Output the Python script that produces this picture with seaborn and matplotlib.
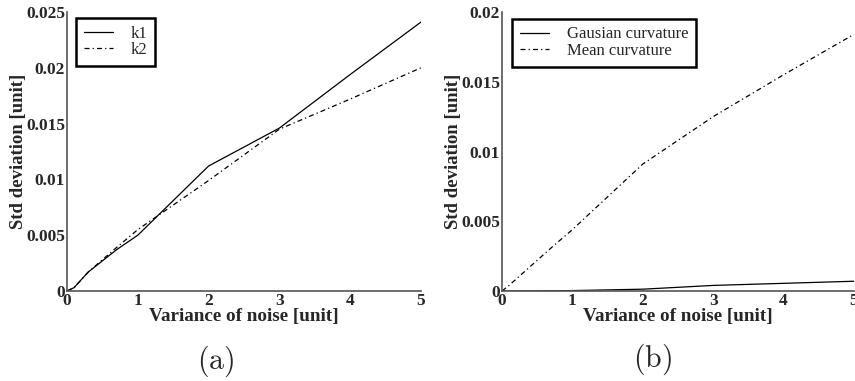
import matplotlib
matplotlib.use("Agg")
import matplotlib.pyplot as plt
import seaborn as sns
import pandas as pd
from matplotlib.ticker import FuncFormatter

# ---- data ----
noise = [0, 0.1, 0.3, 0.5, 0.7, 1, 2, 3, 4, 5]
k1 = [0, 0.0003, 0.0017, 0.0027, 0.0037, 0.0050, 0.0112, 0.0146, 0.0194, 0.0241]
k2 = [0, 0.0003, 0.0017, 0.0028, 0.0039, 0.0055, 0.0099, 0.0145, 0.0172, 0.0200]
gauss = [0, 0, 0, 0.00001, 0.00002, 0.00003, 0.00013, 0.00040, 0.00055, 0.00070]
mean_c = [0, 0.0004, 0.0013, 0.0022, 0.0031, 0.0044, 0.0091, 0.0125, 0.0155, 0.0184]
xticks = [0, 1, 2, 3, 4, 5]
yticks_a = [0, 0.005, 0.01, 0.015, 0.02, 0.025]
yticks_b = [0, 0.005, 0.01, 0.015, 0.02]
xlabel = "Variance of noise [unit]"
ylabel = "Std deviation [unit]"

sns.set_style("white")
plt.rcParams["font.family"] = ["Liberation Serif", "DejaVu Serif"]
plt.rcParams["mathtext.fontset"] = "cm"

fig = plt.figure(figsize=(8.55, 3.81), dpi=100)
ax_a = fig.add_axes([67/855, 1-291/381, 354/855, 279/381])
ax_b = fig.add_axes([502/855, 1-291/381, 352/855, 279/381])

dd = (0, (4, 2.5, 1, 2.5))
panels = [
    (ax_a, [("k1", k1, "-"), ("k2", k2, dd)], yticks_a, 0.025, (76, 18)),
    (ax_b, [("Gausian curvature", gauss, "-"), ("Mean curvature", mean_c, dd)], yticks_b, 0.02, (512, 19)),
]

fmt = FuncFormatter(lambda v, p: "0" if v == 0 else ("%g" % v))

for ax, series, yt, ymax, box in panels:
    for name, vals, ls in series:
        df = pd.DataFrame({"x": noise, "y": vals})
        sns.lineplot(data=df, x="x", y="y", ax=ax, color="black", linewidth=0.9,
                     linestyle=ls, label=name)
    ax.set_xlim(0, 5)
    ax.set_ylim(0, ymax)
    ax.set_xticks(xticks)
    ax.set_yticks(yt)
    ax.xaxis.set_major_formatter(fmt)
    ax.yaxis.set_major_formatter(fmt)
    for s in ["top", "right"]:
        ax.spines[s].set_visible(False)
    for s in ["left", "bottom"]:
        ax.spines[s].set_color("#555555")
        ax.spines[s].set_linewidth(1.2)
    ax.tick_params(direction="in", length=4, width=1, color="#555555", pad=1.5,
                   labelsize=12.5)
    for lab in ax.get_xticklabels() + ax.get_yticklabels():
        lab.set_fontweight("bold")
    ax.set_xlabel(xlabel, fontsize=13.8, fontweight="bold")
    ax.set_ylabel(ylabel, fontsize=13.5, fontweight="bold")
    ax.yaxis.set_label_coords(-0.113, 0.5)
    ax.xaxis.set_label_coords(0.5, -0.062)
    # legend in box
    x0, y0 = box
    l0, b0, w0, h0 = ax.get_position().bounds
    bx = (x0/855 - l0) / w0
    by = ((1 - y0/381) - b0) / h0
    leg = ax.legend(loc="upper left", bbox_to_anchor=(bx, by),
                    fontsize=12, frameon=True, fancybox=False, borderaxespad=0,
                    handlelength=1.75, handletextpad=1.1, labelspacing=0.05,
                    borderpad=0.45)
    fr = leg.get_frame()
    fr.set_edgecolor("black")
    fr.set_linewidth(1.8)
    fr.set_facecolor("white")
    fr.set_alpha(1)

fig.text(216/855, 1-361/381, r"$\mathrm{(a)}$", ha="center", va="center", fontsize=21.5)
fig.text(652/855, 1-359/381, r"$\mathrm{(b)}$", ha="center", va="center", fontsize=21.5)

fig.savefig("out.png", dpi=100)
